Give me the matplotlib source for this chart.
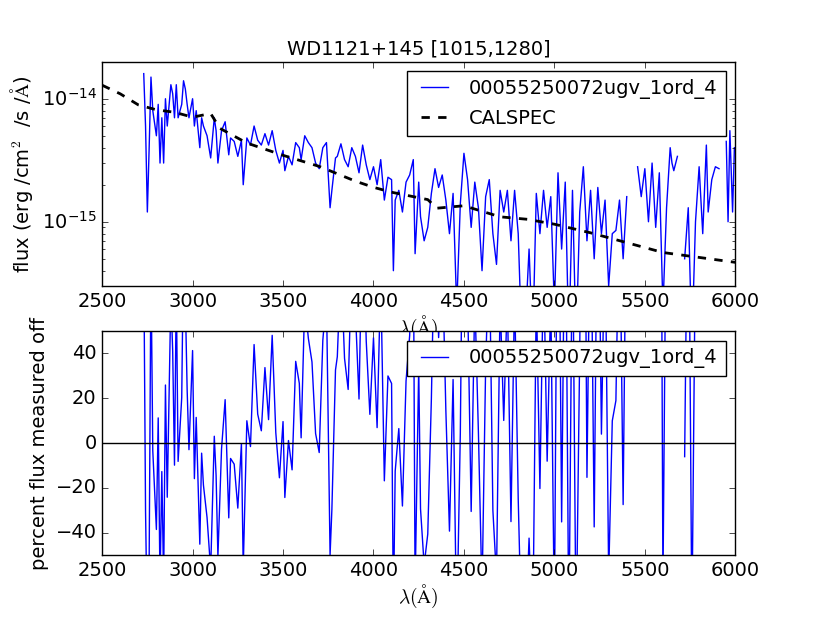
import numpy as np
import matplotlib
matplotlib.use("Agg")
import matplotlib.pyplot as plt

plt.style.use("classic")
plt.rcParams["mathtext.fontset"] = "cm"
plt.rcParams["font.size"] = 14

title = "WD1121+145 [1015,1280]"
obs_label = "00055250072ugv_1ord_4"

# CALSPEC model, wavelength in Angstrom, log10 flux in erg/cm2/s/A
cal_wave = [2500, 2600, 2700, 2750, 2800, 2900, 3000, 3100, 3150, 3300, 3500,
            3700, 3900, 4000, 4100, 4300, 4350, 4500, 4700, 4850, 5000, 5200,
            5400, 5600, 5800, 6000]
cal_log = [-13.89, -13.96, -14.05, -14.07, -14.09, -14.11, -14.15, -14.12,
           -14.24, -14.36, -14.46, -14.55, -14.67, -14.72, -14.76, -14.82,
           -14.89, -14.87, -14.96, -14.98, -15.02, -15.09, -15.17, -15.25,
           -15.29, -15.33]
cal_flux = 10.0 ** np.array(cal_log)

# observed spectrum, flux in units of 1e-15 (nan = gap)
obs_wave = [2730, 2740, 2750, 2760, 2770, 2780, 2800, 2810, 2820, 2830, 2840,
            2850, 2860, 2880, 2890, 2900, 2910, 2920, 2940, 2950, 2960, 2970,
            2980, 3000, 3010, 3020, 3040, 3050, 3060, 3080, 3100, 3120, 3130,
            3140, 3160, 3180, 3200, 3210, 3230, 3250, 3270, 3280, 3300, 3320,
            3340, 3360, 3380, 3400, 3420, 3440, 3460, 3480, 3500, 3510, 3530,
            3550, 3570, 3590, 3600, 3620, 3640, 3660, 3680, 3700, 3720, 3740,
            3760, 3770, 3790, 3800, 3820, 3840, 3860, 3880, 3900, 3920, 3940,
            3960, 3980, 4000, 4020, 4040, 4060, 4080, 4100, 4110, 4120, 4140,
            4160, 4180, 4200, 4220, 4230, 4250, 4260, 4280, 4300, 4320, 4340,
            4360, 4380, 4400, 4420, 4440, 4460, 4480, 4500, 4520, 4540, 4560,
            4580, 4600, 4620, 4640, 4660, 4680, 4700, 4720, 4740, 4760, 4780,
            4800, 4820, 4840, 4860, 4880, 4900, 4920, 4940, 4960, 4980, 5000,
            5020, 5040, 5060, 5080, 5100, 5120, 5140, 5160, 5180, 5200, 5220,
            5240, 5260, 5280, 5300, 5320, 5340, 5360, 5380, 5400, 5430, 5460,
            5480, 5500, 5520, 5540, 5560, 5580, 5600, 5620, 5640, 5650, 5660,
            5680, 5700, 5720, 5740, 5760, 5780, 5800, 5820, 5840, 5850, 5870,
            5890, 5910, 5930, 5950, 5960, 5970, 5985, 5995]
obs_e15 = [16, 6, 1.2, 4, 15, 8, 5, 9, 3, 7, 3,
           10, 6, 13, 11, 7, 13, 7, 9, 14, 12, 9,
           7, 10, 6, 8, 4, 7, 6, 5, 3.3, 7, 5.5,
           3, 5.5, 6.5, 3.5, 4.8, 4.5, 3.4, 4.6, 2.0, 4.8, 4.2,
           6, 4.6, 4.2, 5.2, 4.2, 5.5, 3.8, 3.0, 3.8, 2.6, 3.4,
           2.9, 4.4, 4.0, 3.2, 5.0, 4.4, 4.0, 3.0, 2.7, 4.0, 4.4,
           1.3, 1.8, 3.3, 3.4, 4.3, 3.2, 2.8, 4.0, 3.4, 2.5, 4.2,
           2.9, 2.2, 2.8, 2.0, 3.2, 1.5, 2.3, 2.2, 0.4, 1.5, 1.8,
           1.2, 2.1, 2.4, 3.2, 0.55, 2.1, 1.1, 0.7, 0.9, 1.7, 2.7,
           1.9, 2.4, 1.5, 0.8, 1.7, 0.2, 1.4, 3.6, 2.2, 0.9, 2.1,
           1.3, 0.4, 1.6, 2.2, 0.8, 0.45, 1.8, 1.2, 1.8, 0.7, 1.8,
           0.8, 0.1, 0.15, 0.6, 0.1, 1.7, 0.8, 1.8, 0.9, 1.6, 0.2,
           2.5, 0.6, 2.1, 0.1, 1.8, 0.1, 1.2, 2.8, 0.7, 1.8, 0.5,
           1.9, 0.8, 1.5, 0.3, 0.8, 0.85, 1.5, 0.5, 1.6, np.nan, 2.8,
           1.6, 2.7, 1.0, 3.0, 0.9, 2.5, 0.2, 1.3, 4.0, 3.0, 2.6,
           3.4, np.nan, 0.5, 1.3, 0.1, 1.0, 2.8, 0.8, 4.2, 1.2, 2.2,
           2.8, 2.7, np.nan, 4.5, 1.0, 5.5, 1.2, 4.0]
obs_flux = np.array(obs_e15) * 1e-15

# percent flux measured off relative to the CALSPEC model
cal_at_obs = 10.0 ** np.interp(obs_wave, cal_wave, cal_log)
percent = (obs_flux - cal_at_obs) / cal_at_obs * 100.0

fig = plt.figure(figsize=(8.17, 6.17), dpi=100)
fig.subplots_adjust(left=0.125, right=0.9, top=0.9, bottom=0.1, hspace=0.2)

xlab = r"$\lambda(\mathrm{\AA})$"

ax1 = fig.add_subplot(211)
ax1.plot(obs_wave, obs_flux, "b-", label=obs_label)
ax1.plot(cal_wave, cal_flux, "k--", lw=2, label="CALSPEC")
ax1.set_yscale("log")
ax1.set_xlim(2500, 6000)
ax1.set_ylim(3e-16, 2e-14)
ax1.set_title(title, fontsize=14)
ax1.set_xlabel(xlab, labelpad=2)
ax1.set_ylabel(r"flux (erg /cm$^2$  /s /$\mathrm{\AA}$)")
ax1.legend(loc="upper right", fontsize=14)

ax2 = fig.add_subplot(212)
ax2.plot(obs_wave, percent, "b-", label=obs_label)
ax2.axhline(0, color="k")
ax2.set_xlim(2500, 6000)
ax2.set_ylim(-50, 50)
ax2.set_xlabel(xlab, labelpad=2)
ax2.set_ylabel("percent flux measured off")
ax2.legend(loc="upper right", fontsize=14)

fig.savefig("out.png", dpi=100)
